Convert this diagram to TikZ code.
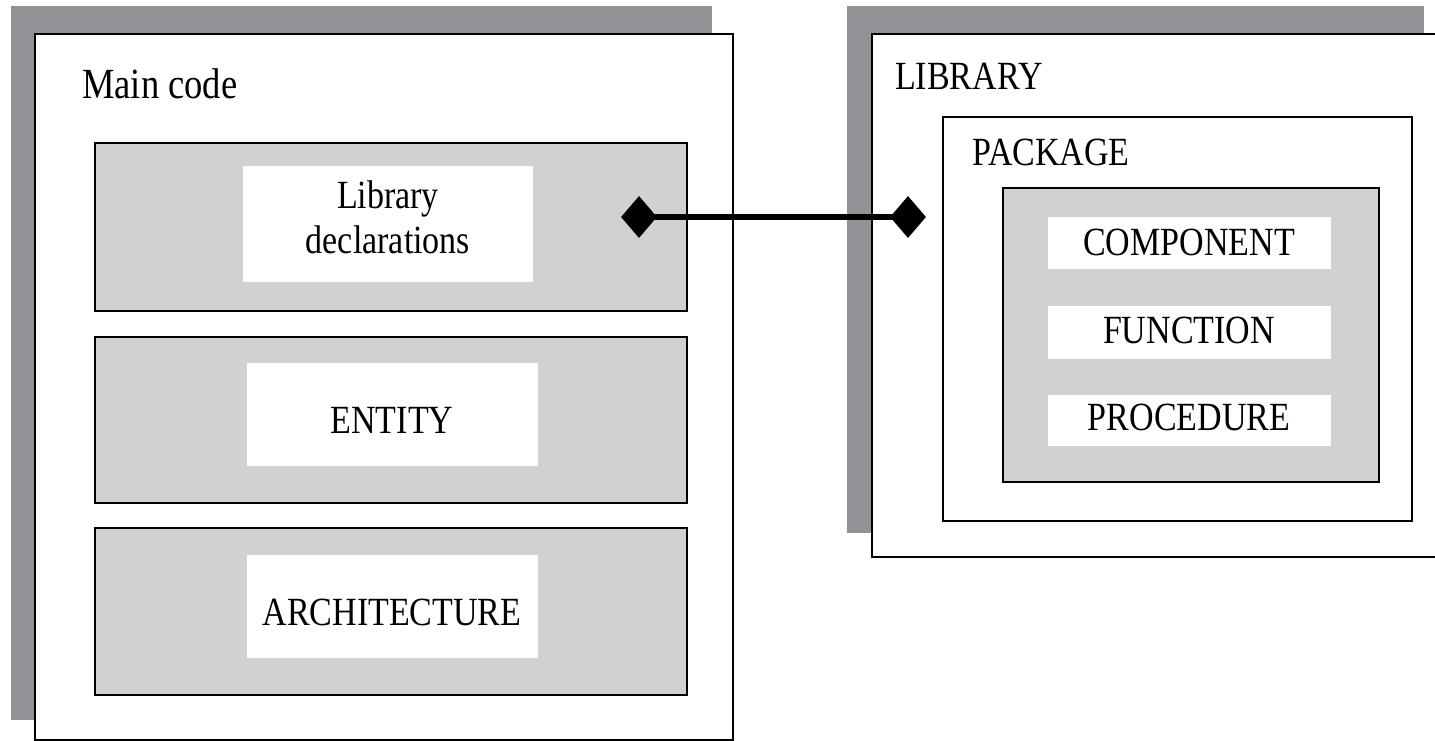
\documentclass[tikz,border=0pt]{standalone}
\usepackage{fontspec}
\setmainfont{Liberation Serif}[FakeStretch=0.85]
\usetikzlibrary{shapes.geometric}
\definecolor{shadowgray}{RGB}{146,146,150}
\definecolor{panelgray}{RGB}{208,209,211}
\begin{document}
\begin{tikzpicture}[x=1pt,y=-1pt,
  box/.style={anchor=north west, inner sep=0pt, outer sep=0pt},
  backing/.style={box, fill=shadowgray, draw=none},
  frame/.style={box, fill=white, draw=black, line width=2.5pt},
  panel/.style={box, fill=panelgray, draw=black, line width=2.5pt},
  slot/.style={box, fill=white, draw=none},
  lbl/.style={anchor=base, inner sep=0pt, font=\fontsize{40}{44}\selectfont},
  title/.style={anchor=base west, inner sep=0pt, font=\fontsize{40}{44}\selectfont},
  joint/.style={diamond, fill=black, inner sep=0pt, minimum width=36pt, minimum height=42pt}
]
\clip (0,0) rectangle (1435,741);
\fill[white] (0,0) rectangle (1435,741);

% ---- main code block ----
\node[backing, minimum width=701pt, minimum height=714pt] (mainback) at (11,6) {};
\node[frame, minimum width=698pt, minimum height=706pt] (main) at (35,34) {};
\node[title, font=\fontsize{43}{46}\selectfont] (maintitle) at (82,99) {Main code};

\node[panel, minimum width=592pt, minimum height=168pt] (libpanel) at (95,143) {};
\node[slot, minimum width=290pt, minimum height=116pt] (libslot) at (243,166) {};
\node[lbl] (libtxt1) at (388,208) {Library};
\node[lbl] (libtxt2) at (388,253) {declarations};

\node[panel, minimum width=592pt, minimum height=166pt] (entpanel) at (95,337) {};
\node[slot, minimum width=291pt, minimum height=103pt] (entslot) at (247,363) {};
\node[lbl] (enttxt) at (392,433) {ENTITY};

\node[panel, minimum width=592pt, minimum height=167pt] (archpanel) at (95,528) {};
\node[slot, minimum width=291pt, minimum height=103pt] (archslot) at (247,555) {};
\node[lbl] (archtxt) at (392,625) {ARCHITECTURE};

% ---- library block ----
\node[backing, minimum width=577pt, minimum height=527pt] (libback) at (847,6) {};
\node[frame, minimum width=573pt, minimum height=523pt] (library) at (872,34) {};
\node[title] (librarytitle) at (895,90) {LIBRARY};

\node[frame, minimum width=469pt, minimum height=404pt] (package) at (943,117) {};
\node[title] (packagetitle) at (972,165) {PACKAGE};

\node[panel, minimum width=376pt, minimum height=294pt] (pkgpanel) at (1003,188) {};
\node[slot, minimum width=283pt, minimum height=52pt] (compslot) at (1048,217) {};
\node[lbl] (comptxt) at (1189,255) {COMPONENT};
\node[slot, minimum width=283pt, minimum height=53pt] (funcslot) at (1048,306) {};
\node[lbl] (functxt) at (1189,343) {FUNCTION};
\node[slot, minimum width=283pt, minimum height=51pt] (procslot) at (1048,395) {};
\node[lbl] (proctxt) at (1189,430) {PROCEDURE};

% ---- link between the declarations and the library ----
\node[joint] (jleft) at (639,217) {};
\node[joint] (jright) at (908,217) {};
\draw[line width=5.5pt] (jleft.center) -- (jright.center);
\end{tikzpicture}
\end{document}
